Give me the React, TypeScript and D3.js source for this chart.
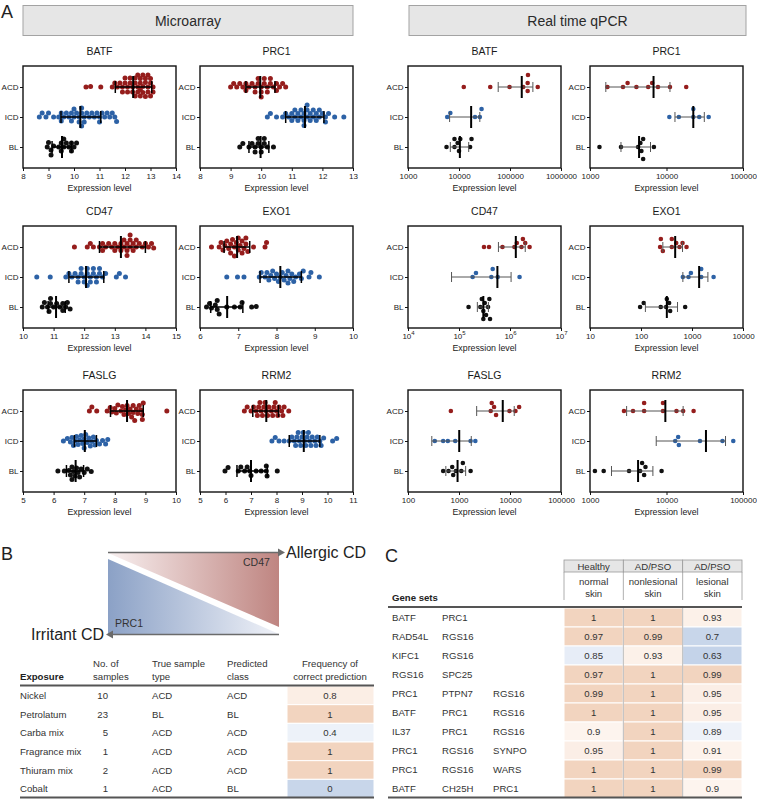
import React, { useEffect, useRef } from 'react';
import * as d3 from 'd3';

const groups = ['ACD', 'ICD', 'BL'];

// ---------------- Microarray ----------------
const maBATF_ACD = [10.47, 10.65, 11.05, 11.5, 11.6, 11.7, 11.8, 11.9, 11.9, 12.0, 12.0, 12.1, 12.1, 12.2, 12.2, 12.3, 12.3, 12.4, 12.4, 12.4, 12.5, 12.5, 12.5, 12.6, 12.6, 12.6, 12.6, 12.7, 12.7, 12.7, 12.8, 12.8, 12.8, 12.9, 12.9, 12.9, 13.0, 13.0, 13.0, 13.1, 13.1];
const maBATF_ICD = [8.64, 8.75, 8.9, 9.0, 9.2, 9.4, 9.5, 9.5, 9.6, 9.7, 9.8, 9.9, 9.9, 10.0, 10.0, 10.1, 10.2, 10.2, 10.3, 10.3, 10.3, 10.4, 10.4, 10.5, 10.6, 10.7, 10.8, 10.9, 11.0, 11.0, 11.1, 11.2, 11.3, 11.4, 11.5, 11.6, 11.67];
const maBATF_BL = [8.95, 9.0, 9.1, 9.1, 9.2, 9.4, 9.5, 9.5, 9.6, 9.6, 9.7, 9.8, 9.9, 9.9, 10.0, 10.1];
const maBATF_mean = [12.32, 10.25, 9.53];
const maBATF_sdLow = [11.62, 9.49, 9.14];
const maBATF_sdHigh = [13.05, 11.05, 9.9];
const maBATF_ticks = [8, 9, 10, 11, 12, 13, 14];

const maPRC1_ACD = [9.0, 9.1, 9.2, 9.3, 9.4, 9.5, 9.5, 9.6, 9.7, 9.8, 9.8, 9.9, 9.9, 10.0, 10.0, 10.0, 10.1, 10.1, 10.2, 10.2, 10.3, 10.3, 10.4, 10.5, 10.5, 10.6, 10.7, 10.8];
const maPRC1_ICD = [10.2, 10.3, 10.5, 10.7, 10.8, 10.9, 11.0, 11.0, 11.1, 11.1, 11.2, 11.2, 11.3, 11.3, 11.4, 11.4, 11.4, 11.5, 11.5, 11.5, 11.6, 11.6, 11.7, 11.7, 11.8, 11.8, 11.9, 11.9, 12.0, 12.1, 12.1, 12.2, 12.4, 12.7];
const maPRC1_BL = [9.3, 9.4, 9.6, 9.7, 9.8, 9.8, 9.9, 9.9, 10.0, 10.0, 10.1, 10.1, 10.2, 10.4];
const maPRC1_mean = [9.97, 11.43, 9.98];
const maPRC1_sdLow = [9.5, 10.8, 9.6];
const maPRC1_sdHigh = [10.45, 12.05, 10.25];
const maPRC1_ticks = [8, 9, 10, 11, 12, 13];

const maCD47_ACD = [11.68, 12.1, 12.2, 12.3, 12.5, 12.6, 12.6, 12.7, 12.8, 12.9, 13.0, 13.0, 13.1, 13.2, 13.2, 13.3, 13.3, 13.4, 13.4, 13.4, 13.5, 13.5, 13.5, 13.6, 13.6, 13.7, 13.7, 13.8, 13.9, 14.0, 14.1, 14.2, 14.27];
const maCD47_ICD = [10.45, 10.89, 11.4, 11.5, 11.6, 11.7, 11.8, 11.8, 11.9, 11.9, 12.0, 12.0, 12.1, 12.1, 12.1, 12.2, 12.2, 12.3, 12.3, 12.4, 12.4, 12.5, 12.5, 12.6, 12.7, 13.05, 13.15, 13.35];
const maCD47_BL = [10.63, 10.7, 10.8, 10.85, 10.9, 10.9, 11.0, 11.1, 11.2, 11.3, 11.3, 11.4, 11.45, 11.54];
const maCD47_mean = [13.2, 12.06, 11.08];
const maCD47_sdLow = [12.5, 11.5, 10.82];
const maCD47_sdHigh = [14.0, 12.64, 11.38];
const maCD47_ticks = [10, 11, 12, 13, 14, 15];

const maEXO1_ACD = [6.3, 6.5, 6.55, 6.6, 6.65, 6.7, 6.75, 6.8, 6.8, 6.85, 6.9, 6.9, 6.95, 7.0, 7.0, 7.05, 7.1, 7.1, 7.15, 7.2, 7.2, 7.25, 7.4, 7.7, 7.74];
const maEXO1_ICD = [6.7, 6.98, 7.15, 7.55, 7.6, 7.7, 7.75, 7.8, 7.85, 7.9, 7.95, 8.0, 8.05, 8.1, 8.15, 8.2, 8.25, 8.3, 8.3, 8.35, 8.4, 8.45, 8.5, 8.6, 8.65, 8.7, 8.85, 8.9, 9.12];
const maEXO1_BL = [6.17, 6.25, 6.3, 6.4, 6.45, 6.45, 6.5, 6.7, 6.9, 7.05, 7.1, 7.35, 7.47];
const maEXO1_mean = [6.97, 8.1, 6.71];
const maEXO1_sdLow = [6.63, 7.57, 6.28];
const maEXO1_sdHigh = [7.3, 8.65, 7.12];
const maEXO1_ticks = [6, 7, 8, 9, 10];

const maFASLG_ACD = [7.17, 7.25, 7.41, 7.75, 7.85, 7.9, 8.0, 8.05, 8.1, 8.2, 8.25, 8.3, 8.35, 8.4, 8.45, 8.5, 8.55, 8.6, 8.6, 8.65, 8.7, 8.75, 8.8, 8.85, 8.9, 8.9, 8.93, 9.7];
const maFASLG_ICD = [6.32, 6.45, 6.55, 6.6, 6.65, 6.7, 6.75, 6.8, 6.85, 6.9, 6.95, 7.0, 7.0, 7.05, 7.1, 7.15, 7.2, 7.25, 7.3, 7.35, 7.4, 7.5, 7.6, 7.7, 7.77];
const maFASLG_BL = [6.14, 6.35, 6.5, 6.55, 6.6, 6.6, 6.65, 6.7, 6.75, 6.8, 6.85, 6.9, 7.0, 7.1, 7.23];
const maFASLG_mean = [8.4, 7.02, 6.72];
const maFASLG_sdLow = [7.86, 6.68, 6.42];
const maFASLG_sdHigh = [8.93, 7.4, 6.98];
const maFASLG_ticks = [5, 6, 7, 8, 9, 10];

const maRRM2_ACD = [6.74, 6.85, 7.0, 7.1, 7.2, 7.25, 7.3, 7.35, 7.4, 7.45, 7.5, 7.55, 7.6, 7.65, 7.7, 7.8, 7.85, 7.9, 7.95, 8.0, 8.05, 8.1, 8.2, 8.25, 8.3, 8.48];
const maRRM2_ICD = [7.82, 7.95, 8.1, 8.3, 8.5, 8.6, 8.7, 8.75, 8.8, 8.85, 8.9, 8.95, 9.0, 9.05, 9.1, 9.15, 9.2, 9.25, 9.3, 9.35, 9.4, 9.5, 9.55, 9.6, 9.7, 9.75, 9.85, 10.2, 10.36];
const maRRM2_BL = [5.98, 6.1, 6.5, 6.6, 6.75, 6.85, 6.95, 7.0, 7.2, 7.4, 7.6, 7.6, 7.63, 8.03];
const maRRM2_mean = [7.6, 9.07, 7.0];
const maRRM2_sdLow = [7.07, 8.5, 6.45];
const maRRM2_sdHigh = [8.08, 9.7, 7.64];
const maRRM2_ticks = [5, 6, 7, 8, 9, 10, 11];

// ---------------- Real time qPCR ----------------
const qBATF_ACD = [12400, 41000, 98000, 181000, 222000, 225000, 222000, 350000];
const qBATF_ICD = [6760, 5870, 25600, 20600, 27700];
const qBATF_BL = [5690, 8160, 8160, 9390, 10600, 10000, 17600, 16500];
const qBATF_mean = [170000, 17300, 10400];
const qBATF_sdLow = [58700, 6540, 6760];
const qBATF_sdHigh = [281000, 25600, 15500];
const qBATF_ticks = [1000, 10000, 100000, 1000000];

const qPRC1_ACD = [1690, 2700, 3100, 4040, 6500, 5760, 7730, 11100, 18100];
const qPRC1_ICD = [10900, 14500, 22400, 22400, 26800, 35600];
const qPRC1_BL = [1330, 2540, 4250, 4560, 4950, 4950, 4700, 6840];
const qPRC1_mean = [6770, 22400, 4380];
const qPRC1_sdLow = [1610, 12900, 2540];
const qPRC1_sdHigh = [11100, 31200, 6180];
const qPRC1_ticks = [1000, 10000, 100000];

const qCD47_ACD = [309000, 388000, 711000, 1220000, 1360000, 1680000, 1790000, 2420000, 1990000];
const qCD47_ICD = [215000, 185000, 458000, 431000, 575000, 1540000];
const qCD47_BL = [154000, 262000, 300000, 300000, 339000, 394000, 371000, 406000, 280000, 320000];
const qCD47_mean = [1300000, 566000, 300000];
const qCD47_sdLow = [593000, 71400, 229000];
const qCD47_sdHigh = [1990000, 1050000, 377000];
const qCD47_ticks = [10000, 100000, 1000000, 10000000];

const qEXO1_ACD = [237, 245, 268, 402, 402, 490, 569, 652, 781];
const qEXO1_ICD = [662, 855, 951, 1517, 1517, 2650];
const qEXO1_BL = [96, 113, 244, 321, 311, 356, 373, 735];
const qEXO1_mean = [468, 1380, 321];
const qEXO1_sdLow = [268, 662, 122];
const qEXO1_sdHigh = [652, 2050, 520];
const qEXO1_ticks = [10, 100, 1000, 10000];

const qFASLG_ACD = [692, 4190, 4380, 4870, 5330, 9770, 12800, 15100];
const qFASLG_ICD = [335, 489, 604, 843, 1690, 2090];
const qFASLG_BL = [489, 623, 736, 770, 869, 1110, 1190, 1690];
const qFASLG_mean = [7210, 1010, 937];
const qFASLG_sdLow = [2220, 293, 552];
const qFASLG_sdHigh = [12100, 1740, 1350];
const qFASLG_ticks = [100, 1000, 10000, 100000];

const qRRM2_ACD = [2780, 3650, 5100, 5100, 8990, 8990, 13500, 16500, 22600];
const qRRM2_ICD = [14200, 13000, 14500, 27400, 53900, 74600];
const qRRM2_BL = [1160, 1510, 3240, 4520, 4800, 5100, 5310, 8630];
const qRRM2_mean = [9660, 32800, 4250];
const qRRM2_sdLow = [3010, 7340, 1910];
const qRRM2_sdHigh = [16500, 59100, 6640];
const qRRM2_ticks = [1000, 10000, 100000];

// ---------------- Panel B table ----------------
const bExposure = ['Nickel', 'Petrolatum', 'Carba mix', 'Fragrance mix', 'Thiuram mix', 'Cobalt'];
const bSamples = [10, 23, 5, 1, 2, 1];
const bTrueType = ['ACD', 'BL', 'ACD', 'ACD', 'ACD', 'ACD'];
const bPredicted = ['ACD', 'BL', 'ACD', 'ACD', 'ACD', 'BL'];
const bFrequency = [0.8, 1, 0.4, 1, 1, 0];

// ---------------- Panel C table ----------------
const cGeneSets = [
  ['BATF', 'PRC1'],
  ['RAD54L', 'RGS16'],
  ['KIFC1', 'RGS16'],
  ['RGS16', 'SPC25'],
  ['PRC1', 'PTPN7', 'RGS16'],
  ['BATF', 'PRC1', 'RGS16'],
  ['IL37', 'PRC1', 'RGS16'],
  ['PRC1', 'RGS16', 'SYNPO'],
  ['PRC1', 'RGS16', 'WARS'],
  ['BATF', 'CH25H', 'PRC1'],
];
const cHeaderTop = ['Healthy', 'AD/PSO', 'AD/PSO'];
const cHeaderSub = [['normal', 'skin'], ['nonlesional', 'skin'], ['lesional', 'skin']];
const cNormal = [1, 0.97, 0.85, 0.97, 0.99, 1, 0.9, 0.95, 1, 1];
const cNonlesional = [1, 0.99, 0.93, 1, 1, 1, 1, 1, 1, 1];
const cLesional = [0.93, 0.7, 0.63, 0.99, 0.95, 0.95, 0.89, 0.91, 0.99, 0.9];

const FONT = 'Liberation Sans, Arial, Helvetica, sans-serif';
const groupColors = ['#951d1c', '#2d62a6', '#111111'];

type Panel = {
  title: string;
  series: number[][];
  mean: number[];
  sdLow: number[];
  sdHigh: number[];
  ticks: number[];
  log: boolean;
  sup?: boolean;
};

const microPanels: Panel[] = [
  { title: 'BATF', series: [maBATF_ACD, maBATF_ICD, maBATF_BL], mean: maBATF_mean, sdLow: maBATF_sdLow, sdHigh: maBATF_sdHigh, ticks: maBATF_ticks, log: false },
  { title: 'PRC1', series: [maPRC1_ACD, maPRC1_ICD, maPRC1_BL], mean: maPRC1_mean, sdLow: maPRC1_sdLow, sdHigh: maPRC1_sdHigh, ticks: maPRC1_ticks, log: false },
  { title: 'CD47', series: [maCD47_ACD, maCD47_ICD, maCD47_BL], mean: maCD47_mean, sdLow: maCD47_sdLow, sdHigh: maCD47_sdHigh, ticks: maCD47_ticks, log: false },
  { title: 'EXO1', series: [maEXO1_ACD, maEXO1_ICD, maEXO1_BL], mean: maEXO1_mean, sdLow: maEXO1_sdLow, sdHigh: maEXO1_sdHigh, ticks: maEXO1_ticks, log: false },
  { title: 'FASLG', series: [maFASLG_ACD, maFASLG_ICD, maFASLG_BL], mean: maFASLG_mean, sdLow: maFASLG_sdLow, sdHigh: maFASLG_sdHigh, ticks: maFASLG_ticks, log: false },
  { title: 'RRM2', series: [maRRM2_ACD, maRRM2_ICD, maRRM2_BL], mean: maRRM2_mean, sdLow: maRRM2_sdLow, sdHigh: maRRM2_sdHigh, ticks: maRRM2_ticks, log: false },
];

const qpcrPanels: Panel[] = [
  { title: 'BATF', series: [qBATF_ACD, qBATF_ICD, qBATF_BL], mean: qBATF_mean, sdLow: qBATF_sdLow, sdHigh: qBATF_sdHigh, ticks: qBATF_ticks, log: true },
  { title: 'PRC1', series: [qPRC1_ACD, qPRC1_ICD, qPRC1_BL], mean: qPRC1_mean, sdLow: qPRC1_sdLow, sdHigh: qPRC1_sdHigh, ticks: qPRC1_ticks, log: true },
  { title: 'CD47', series: [qCD47_ACD, qCD47_ICD, qCD47_BL], mean: qCD47_mean, sdLow: qCD47_sdLow, sdHigh: qCD47_sdHigh, ticks: qCD47_ticks, log: true, sup: true },
  { title: 'EXO1', series: [qEXO1_ACD, qEXO1_ICD, qEXO1_BL], mean: qEXO1_mean, sdLow: qEXO1_sdLow, sdHigh: qEXO1_sdHigh, ticks: qEXO1_ticks, log: true },
  { title: 'FASLG', series: [qFASLG_ACD, qFASLG_ICD, qFASLG_BL], mean: qFASLG_mean, sdLow: qFASLG_sdLow, sdHigh: qFASLG_sdHigh, ticks: qFASLG_ticks, log: true },
  { title: 'RRM2', series: [qRRM2_ACD, qRRM2_ICD, qRRM2_BL], mean: qRRM2_mean, sdLow: qRRM2_sdLow, sdHigh: qRRM2_sdHigh, ticks: qRRM2_ticks, log: true },
];

function swarm(vals: number[], xs: (v: number) => number, r: number, step: number, maxOff: number, overlap: number) {
  const items = vals.map((v) => ({ x: xs(v), dy: 0 })).sort((a, b) => a.x - b.x);
  const placed: { x: number; dy: number }[] = [];
  const minD = 2 * r * overlap;
  const nSteps = Math.floor(maxOff / step);
  for (const it of items) {
    let chosen = 0;
    let bestDist = -Infinity;
    for (let k = 0; k <= 2 * nSteps; k++) {
      const dy = (k % 2 === 1 ? -1 : 1) * Math.ceil(k / 2) * step;
      let minDist = Infinity;
      for (const p of placed) {
        const d = Math.hypot(p.x - it.x, p.dy - dy);
        if (d < minDist) minDist = d;
      }
      if (minDist >= minD) { chosen = dy; break; }
      if (minDist > bestDist) { bestDist = minDist; chosen = dy; }
    }
    it.dy = chosen;
    placed.push(it);
  }
  return placed;
}

function drawPlot(svg: any, p: Panel, x0: number, y0: number, w: number, h: number, micro: boolean) {
  const g = svg.append('g');
  const lo = p.ticks[0];
  const hi = p.ticks[p.ticks.length - 1];
  const x: any = p.log
    ? d3.scaleLog().domain([lo, hi]).range([x0, x0 + w])
    : d3.scaleLinear().domain([lo, hi]).range([x0, x0 + w]);
  const y = d3.scalePoint<string>().domain(groups).range([y0 + 21, y0 + h - 21]);

  g.append('text').attr('x', x0 + w / 2).attr('y', y0 - 11).attr('text-anchor', 'middle')
    .attr('font-size', 10.5).attr('fill', '#1a1a1a').text(p.title);

  // x axis
  const ax = d3.axisBottom(x).tickValues(p.ticks).tickSize(3).tickSizeOuter(0)
    .tickFormat((d: any) => (p.sup ? '' : d3.format('d')(d)));
  const gx = g.append('g').attr('transform', `translate(0,${y0 + h})`).call(ax);
  gx.attr('font-family', FONT).attr('font-size', 8);
  gx.select('.domain').remove();
  gx.selectAll('.tick line').attr('stroke', '#111').attr('stroke-width', 1);
  gx.selectAll('.tick text').attr('fill', '#222').attr('y', 5);
  if (p.sup) {
    gx.selectAll('.tick text').each(function (this: any, d: any) {
      const t = d3.select(this);
      t.text('');
      t.append('tspan').text('10');
      t.append('tspan').attr('dy', -3.5).attr('font-size', 6).text(String(Math.round(Math.log10(d))));
    });
  }
  g.append('text').attr('x', x0 + w / 2).attr('y', y0 + h + 23).attr('text-anchor', 'middle')
    .attr('font-size', 8.8).attr('fill', '#1a1a1a').text('Expression level');

  // y axis (tick marks from d3, labels as plain text)
  const ay = d3.axisLeft(y).tickSize(3).tickSizeOuter(0).tickFormat(() => '');
  const gy = g.append('g').attr('transform', `translate(${x0},0)`).call(ay);
  gy.select('.domain').remove();
  gy.selectAll('.tick line').attr('stroke', '#111').attr('stroke-width', 1);
  groups.forEach((grp) => {
    g.append('text').attr('x', x0 - 4.5).attr('y', (y(grp) as number) + 2.9)
      .attr('text-anchor', 'end').attr('font-size', 8).attr('fill', '#222222').text(grp);
  });

  // dots
  p.series.forEach((vals, gi) => {
    const cy = y(groups[gi]) as number;
    const pts = micro
      ? swarm(vals, x, 2.5, 0.5, 12, 0.92)
      : swarm(vals, x, 2.3, 4, 12, 1);
    g.append('g').selectAll('circle').data(pts).join('circle')
      .attr('cx', (d: any) => d.x).attr('cy', (d: any) => cy + d.dy).attr('r', micro ? 2.5 : 2.3)
      .attr('fill', groupColors[gi]);
  });

  // mean & SD
  p.series.forEach((_, gi) => {
    const cy = y(groups[gi]) as number;
    const xl = x(p.sdLow[gi]);
    const xh = x(p.sdHigh[gi]);
    const xm = x(p.mean[gi]);
    const sdColor = micro ? '#000' : '#555';
    const sdW = micro ? 1.5 : 1;
    const cap = micro ? 6 : 5;
    const sg = g.append('g').attr('stroke', sdColor).attr('stroke-width', sdW);
    sg.append('line').attr('x1', xl).attr('x2', xh).attr('y1', cy).attr('y2', cy);
    sg.append('line').attr('x1', xl).attr('x2', xl).attr('y1', cy - cap).attr('y2', cy + cap);
    sg.append('line').attr('x1', xh).attr('x2', xh).attr('y1', cy - cap).attr('y2', cy + cap);
    g.append('line').attr('x1', xm).attr('x2', xm).attr('y1', cy - 11).attr('y2', cy + 11)
      .attr('stroke', '#000').attr('stroke-width', 2);
  });

  // frame
  g.append('rect').attr('x', x0).attr('y', y0).attr('width', w).attr('height', h)
    .attr('fill', 'none').attr('stroke', '#111').attr('stroke-width', 1.4);
}

export default function App() {
  const ref = useRef<SVGSVGElement>(null);
  useEffect(() => {
    const svg = d3.select(ref.current);
    svg.selectAll('*').remove();
    svg.append('rect').attr('width', 757).attr('height', 799).attr('fill', '#fff');

    // ---------- Panel A ----------
    svg.append('text').attr('x', 1).attr('y', 18).attr('font-size', 18).attr('fill', '#222').text('A');
    const headers = [
      { label: 'Microarray', x: 23, w: 330 },
      { label: 'Real time qPCR', x: 409, w: 337 },
    ];
    headers.forEach((hd) => {
      svg.append('rect').attr('x', hd.x).attr('y', 5.5).attr('width', hd.w).attr('height', 30)
        .attr('fill', '#e6e6e6').attr('stroke', '#a3a3a3').attr('stroke-width', 1);
      svg.append('text').attr('x', hd.x + hd.w / 2).attr('y', 25.5).attr('text-anchor', 'middle')
        .attr('font-size', 14).attr('fill', '#2a2a2a').text(hd.label);
    });

    const rowsY = [66, 226, 390];
    const maX = [23, 200];
    const qX = [408, 590];
    const W = 153;
    const H = 102;
    microPanels.forEach((p, i) => drawPlot(svg, p, maX[i % 2], rowsY[Math.floor(i / 2)], W, H, true));
    qpcrPanels.forEach((p, i) => drawPlot(svg, p, qX[i % 2], rowsY[Math.floor(i / 2)], W, H, false));

    // ---------- Panel B ----------
    svg.append('text').attr('x', 1).attr('y', 560).attr('font-size', 18).attr('fill', '#222').text('B');
    const defs = svg.append('defs');
    const gr = defs.append('linearGradient').attr('id', 'gradRed').attr('x1', '0%').attr('x2', '100%');
    gr.append('stop').attr('offset', '0%').attr('stop-color', '#f8f0f0');
    gr.append('stop').attr('offset', '100%').attr('stop-color', '#bf8581');
    const gb = defs.append('linearGradient').attr('id', 'gradBlue').attr('x1', '0%').attr('x2', '100%');
    gb.append('stop').attr('offset', '0%').attr('stop-color', '#8ba1c6');
    gb.append('stop').attr('offset', '100%').attr('stop-color', '#f0f2f8');

    const tri = d3.line();
    svg.append('path').attr('d', tri([[108, 553], [279, 553], [279, 627]]) + 'Z').attr('fill', 'url(#gradRed)');
    svg.append('path').attr('d', tri([[108, 559], [108, 634], [279, 634]]) + 'Z').attr('fill', 'url(#gradBlue)');
    svg.append('line').attr('x1', 108).attr('x2', 279).attr('y1', 552.5).attr('y2', 552.5)
      .attr('stroke', '#6b6b6b').attr('stroke-width', 1.5);
    svg.append('path').attr('d', tri([[278, 548.5], [285, 552.5], [278, 556.5]]) + 'Z').attr('fill', '#6b6b6b');
    svg.append('line').attr('x1', 279).attr('x2', 112).attr('y1', 634.5).attr('y2', 634.5)
      .attr('stroke', '#6b6b6b').attr('stroke-width', 1.5);
    svg.append('path').attr('d', tri([[113, 630.5], [106, 634.5], [113, 638.5]]) + 'Z').attr('fill', '#6b6b6b');

    svg.append('text').attr('x', 286).attr('y', 558).attr('font-size', 16).attr('fill', '#222').text('Allergic CD');
    svg.append('text').attr('x', 104).attr('y', 640).attr('text-anchor', 'end').attr('font-size', 16).attr('fill', '#222').text('Irritant CD');
    svg.append('text').attr('x', 243).attr('y', 566).attr('font-size', 10.5).attr('fill', '#333').text('CD47');
    svg.append('text').attr('x', 115).attr('y', 627).attr('font-size', 10.5).attr('fill', '#333').text('PRC1');

    const bFs = 9.6;
    const bHead = svg.append('g').attr('font-size', bFs).attr('fill', '#333');
    bHead.append('text').attr('x', 20).attr('y', 680).attr('font-weight', 'bold').attr('fill', '#222').text('Exposure');
    [['No. of', 'samples', 93], ['True sample', 'type', 152], ['Predicted', 'class', 227]].forEach((c: any) => {
      bHead.append('text').attr('x', c[2]).attr('y', 667).text(c[0]);
      bHead.append('text').attr('x', c[2]).attr('y', 680).text(c[1]);
    });
    bHead.append('text').attr('x', 330).attr('y', 667).attr('text-anchor', 'middle').text('Frequency of');
    bHead.append('text').attr('x', 330).attr('y', 680).attr('text-anchor', 'middle').text('correct prediction');

    const bRow = d3.scaleBand<number>().domain(d3.range(bExposure.length)).range([686, 798]);
    const bColor = d3.scaleLinear<string>().domain([0, 0.4, 0.8, 1]).range(['#c8d6ea', '#edf2f9', '#fbeee5', '#f2d4bf']);
    const bBody = svg.append('g').attr('font-size', bFs).attr('fill', '#333');
    bExposure.forEach((ex, i) => {
      const y0 = bRow(i) as number;
      const cy = y0 + bRow.bandwidth() / 2 + 3.5;
      bBody.append('rect').attr('x', 287).attr('y', y0).attr('width', 87).attr('height', bRow.bandwidth())
        .attr('fill', bColor(bFrequency[i])).attr('stroke', '#fff').attr('stroke-width', 1);
      bBody.append('text').attr('x', 20).attr('y', cy).text(ex);
      bBody.append('text').attr('x', 108).attr('y', cy).attr('text-anchor', 'end').text(String(bSamples[i]));
      bBody.append('text').attr('x', 152).attr('y', cy).text(bTrueType[i]);
      bBody.append('text').attr('x', 227).attr('y', cy).text(bPredicted[i]);
      bBody.append('text').attr('x', 330).attr('y', cy).attr('text-anchor', 'middle').text(String(bFrequency[i]));
    });
    svg.append('line').attr('x1', 20).attr('x2', 374).attr('y1', 685.5).attr('y2', 685.5).attr('stroke', '#555').attr('stroke-width', 2);
    svg.append('line').attr('x1', 20).attr('x2', 374).attr('y1', 797.5).attr('y2', 797.5).attr('stroke', '#555').attr('stroke-width', 2);

    // ---------- Panel C ----------
    svg.append('text').attr('x', 385).attr('y', 562).attr('font-size', 18).attr('fill', '#222').text('C');
    const cCol = d3.scaleBand<number>().domain([0, 1, 2]).range([564, 742]);
    const cRow = d3.scaleBand<number>().domain(d3.range(cGeneSets.length)).range([608, 798]);
    const cColor = d3.scaleLinear<string>()
      .domain([0.6, 0.7, 0.85, 0.895, 0.9, 0.96, 0.97, 1])
      .range(['#c2d2e8', '#c8d6ea', '#e7edf7', '#eff3f9', '#fdf4ee', '#fbede4', '#f2d4bf', '#f2d4bf']);
    const cFs = 9.6;
    const cg = svg.append('g').attr('font-size', cFs).attr('fill', '#333');
    cHeaderTop.forEach((t, j) => {
      const x0 = cCol(j) as number;
      cg.append('rect').attr('x', x0).attr('y', 560).attr('width', cCol.bandwidth()).attr('height', 12)
        .attr('fill', '#e6e6e6').attr('stroke', '#9a9a9a').attr('stroke-width', 0.8);
      cg.append('text').attr('x', x0 + cCol.bandwidth() / 2).attr('y', 569.5).attr('text-anchor', 'middle').text(t);
      cg.append('text').attr('x', x0 + cCol.bandwidth() / 2).attr('y', 585).attr('text-anchor', 'middle').text(cHeaderSub[j][0]);
      cg.append('text').attr('x', x0 + cCol.bandwidth() / 2).attr('y', 597).attr('text-anchor', 'middle').text(cHeaderSub[j][1]);
    });
    [0, 1, 2, 3].forEach((k) => {
      const xx = k < 3 ? (cCol(k) as number) : 742;
      cg.append('line').attr('x1', xx).attr('x2', xx).attr('y1', 572).attr('y2', 600).attr('stroke', '#9a9a9a').attr('stroke-width', 0.8);
    });
    cg.append('text').attr('x', 392).attr('y', 601).attr('font-weight', 'bold').attr('fill', '#222').text('Gene sets');

    const cValues = [cNormal, cNonlesional, cLesional];
    cGeneSets.forEach((genes, i) => {
      const y0 = cRow(i) as number;
      const cy = y0 + cRow.bandwidth() / 2 + 3.5;
      cValues.forEach((col, j) => {
        const x0 = cCol(j) as number;
        cg.append('rect').attr('x', x0).attr('y', y0).attr('width', cCol.bandwidth()).attr('height', cRow.bandwidth())
          .attr('fill', cColor(col[i])).attr('stroke', '#fff').attr('stroke-width', 1);
        cg.append('text').attr('x', x0 + cCol.bandwidth() / 2).attr('y', cy).attr('text-anchor', 'middle').text(String(col[i]));
      });
      genes.forEach((gname, k) => {
        cg.append('text').attr('x', [392, 442, 493][k]).attr('y', cy).text(gname);
      });
    });
    [1, 2].forEach((j) => {
      const xx = cCol(j) as number;
      cg.append('line').attr('x1', xx).attr('x2', xx).attr('y1', 608).attr('y2', 797).attr('stroke', '#a8a8a8').attr('stroke-width', 0.8);
    });
    svg.append('line').attr('x1', 388).attr('x2', 742).attr('y1', 607).attr('y2', 607).attr('stroke', '#555').attr('stroke-width', 2);
    svg.append('line').attr('x1', 388).attr('x2', 742).attr('y1', 797.5).attr('y2', 797.5).attr('stroke', '#555').attr('stroke-width', 2);
  }, []);

  return (
    <svg
      ref={ref}
      width={757}
      height={799}
      style={{ position: 'absolute', left: 0, top: 0, display: 'block' }}
      fontFamily={FONT}
    />
  );
}
